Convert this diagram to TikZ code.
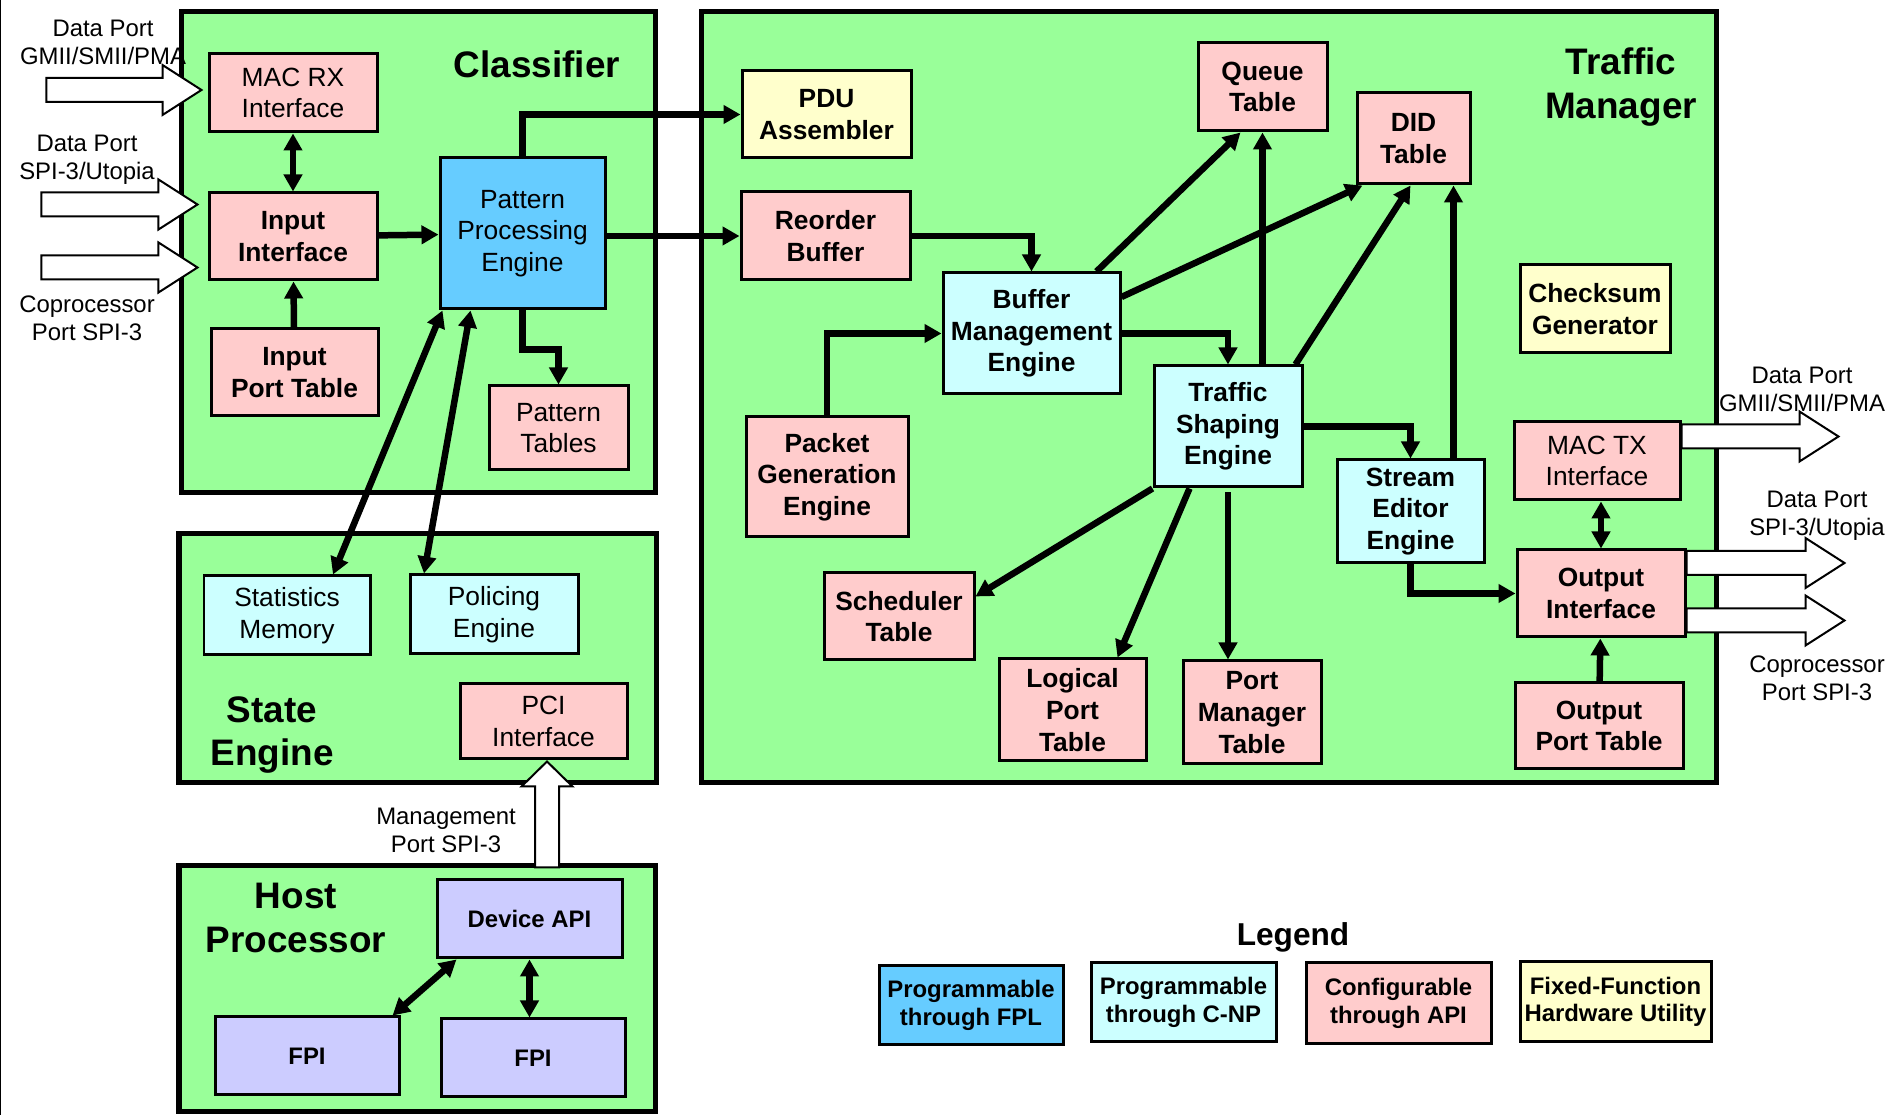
\documentclass[tikz,border=0pt]{standalone}
\usepackage{fontspec}
\setmainfont{Liberation Sans}
\usetikzlibrary{arrows.meta}

\definecolor{grpgreen}{HTML}{99FF99}
\definecolor{fplblue}{HTML}{66CCFF}
\definecolor{cnpcyan}{HTML}{CCFFFF}
\definecolor{apipink}{HTML}{FFCCCC}
\definecolor{fixyellow}{HTML}{FFFFCC}
\definecolor{hostlav}{HTML}{CCCCFF}

\tikzset{
  sz/.style 2 args={minimum width=#1cm, minimum height=#2cm},
  blk/.style={draw, line width=0.03cm, align=center, inner sep=0pt, font=\fontsize{7.5}{9}\selectfont},
  blkb/.style={blk, font=\fontsize{7.5}{9}\selectfont\bfseries},
  blks/.style={blk, font=\fontsize{6.8}{7.8}\selectfont\bfseries},
  grp/.style={draw, fill=grpgreen, line width=0.05cm},
  title/.style={align=center, font=\fontsize{10.5}{12.5}\selectfont\bfseries},
  portlbl/.style={align=center, inner sep=0pt, font=\fontsize{6.8}{8}\selectfont},
  port/.style={draw, fill=white, line width=0.02cm},
  link/.style={line width=0.065cm, -{Triangle[length=0.17cm,width=0.18cm]}},
  dlink/.style={link, {Triangle[length=0.17cm,width=0.18cm]}-{Triangle[length=0.17cm,width=0.18cm]}}
}

\begin{document}
\begin{tikzpicture}
  \useasboundingbox (0,0) rectangle (18.95,-11.15);
  % page edge
  \draw[line width=0.01cm] (0.005,0) -- (0.005,-11.15);

  % groups
  \draw[grp] (1.81,-0.12) rectangle (6.55,-4.93);
  \draw[grp] (7.01,-0.12) rectangle (17.16,-7.83);
  \draw[grp] (1.79,-5.34) rectangle (6.56,-7.83);
  \draw[grp] (1.79,-8.66) rectangle (6.55,-11.12);
  \node[title] (tcls) at (5.37,-0.645) {Classifier};
  \node[title] (ttm) at (16.21,-0.87) {Traffic\\Manager};
  \node[title] (tstate) at (2.72,-7.35) {State\\Engine};
  \node[title] (thost) at (2.96,-9.18) {Host\\Processor};

  % classifier
  \node[blk, fill=apipink, sz={1.68}{0.78}] (macrx) at (2.93,-0.93) {MAC RX\\Interface};
  \node[blkb, fill=apipink, sz={1.68}{0.87}] (inif) at (2.93,-2.365) {Input\\Interface};
  \node[blkb, fill=apipink, sz={1.67}{0.87}] (inport) at (2.945,-3.725) {Input\\Port Table};
  \node[blk, fill=fplblue, sz={1.65}{1.51}] (ppe) at (5.225,-2.335) {Pattern\\Processing\\Engine};
  \node[blk, fill=apipink, sz={1.39}{0.84}] (ptab) at (5.585,-4.28) {Pattern\\Tables};

  % state engine
  \node[blk, fill=cnpcyan, sz={1.66}{0.79}] (stats) at (2.87,-6.155) {Statistics\\Memory};
  \node[blk, fill=cnpcyan, sz={1.68}{0.79}] (polic) at (4.94,-6.145) {Policing\\Engine};
  \node[blk, fill=apipink, sz={1.67}{0.75}] (pci) at (5.435,-7.215) {PCI\\Interface};

  % traffic manager
  \node[blkb, fill=fixyellow, sz={1.69}{0.87}] (pdu) at (8.265,-1.145) {PDU\\Assembler};
  \node[blkb, fill=apipink, sz={1.69}{0.88}] (reorder) at (8.255,-2.36) {Reorder\\Buffer};
  \node[blkb, fill=apipink, sz={1.29}{0.88}] (queue) at (12.625,-0.87) {Queue\\Table};
  \node[blkb, fill=apipink, sz={1.13}{0.91}] (did) at (14.135,-1.385) {DID\\Table};
  \node[blkb, fill=cnpcyan, sz={1.77}{1.21}] (bme) at (10.315,-3.335) {Buffer\\Management\\Engine};
  \node[blkb, fill=cnpcyan, sz={1.48}{1.21}] (tse) at (12.28,-4.265) {Traffic\\Shaping\\Engine};
  \node[blkb, fill=fixyellow, sz={1.50}{0.88}] (chk) at (15.95,-3.09) {Checksum\\Generator};
  \node[blkb, fill=apipink, sz={1.62}{1.20}] (pge) at (8.27,-4.77) {Packet\\Generation\\Engine};
  \node[blkb, fill=cnpcyan, sz={1.47}{1.03}] (see) at (14.105,-5.115) {Stream\\Editor\\Engine};
  \node[blk, fill=apipink, sz={1.66}{0.78}] (mactx) at (15.97,-4.61) {MAC TX\\Interface};
  \node[blkb, fill=apipink, sz={1.68}{0.87}] (outif) at (16.01,-5.935) {Output\\Interface};
  \node[blkb, fill=apipink, sz={1.68}{0.86}] (outport) at (15.99,-7.26) {Output\\Port Table};
  \node[blkb, fill=apipink, sz={1.50}{0.87}] (sched) at (8.99,-6.165) {Scheduler\\Table};
  \node[blkb, fill=apipink, sz={1.47}{1.02}] (logical) at (10.725,-7.10) {Logical\\Port\\Table};
  \node[blkb, fill=apipink, sz={1.38}{1.03}] (pmt) at (12.52,-7.125) {Port\\Manager\\Table};

  % host processor
  \node[blks, fill=hostlav, sz={1.85}{0.78}] (devapi) at (5.295,-9.19) {Device API};
  \node[blks, fill=hostlav, sz={1.84}{0.78}] (fpia) at (3.07,-10.56) {FPI};
  \node[blks, fill=hostlav, sz={1.84}{0.78}] (fpib) at (5.33,-10.58) {FPI};

  % ports (hollow arrows)
  \coordinate (in1) at ([shift={(-0.06,0.03)}]macrx.west);
  \coordinate (in2) at ([shift={(-0.10,0.32)}]inif.west);
  \coordinate (in3) at ([shift={(-0.10,-0.31)}]inif.west);
  \coordinate (out1) at ([shift={(1.57,0.245)}]mactx.east);
  \coordinate (out2) at ([shift={(1.58,0.305)}]outif.east);
  \coordinate (out3) at ([shift={(1.58,-0.27)}]outif.east);
  \foreach \t/\b in {in1/1.16, in2/1.17, in3/1.17, out1/1.18, out2/1.19, out3/1.19} {
    \draw[port] (\t) -- ++(-0.39,0.25) -- ++(0,-0.13) -- ++(-\b,0) -- ++(0,-0.24)
      -- ++(\b,0) -- ++(0,-0.13) -- cycle;
  }
  \coordinate (mgmt) at ([shift={(0.035,-0.01)}]pci.south);
  \draw[port] (mgmt) -- ++(0.255,-0.25) -- ++(-0.135,0) -- ++(0,-0.81) -- ++(-0.24,0)
    -- ++(0,0.81) -- ++(-0.135,0) -- cycle;
  \node[portlbl] (lin1) at (1.03,-0.42) {Data Port\\GMII/SMII/PMA};
  \node[portlbl] (lin2) at (0.87,-1.60) {Data Port\\SPI-3/Utopia};
  \node[portlbl] (lin3) at (0.87,-3.18) {Coprocessor\\Port SPI-3};
  \node[portlbl] (lout1) at (18.02,-3.89) {Data Port\\GMII/SMII/PMA};
  \node[portlbl] (lout2) at (18.17,-5.16) {Data Port\\SPI-3/Utopia};
  \node[portlbl] (lout3) at (18.17,-6.78) {Coprocessor\\Port SPI-3};
  \node[portlbl] (lmgmt) at (4.46,-8.30) {Management\\Port SPI-3};

  % classifier links
  \draw[dlink] (macrx) -- (inif);
  \draw[link] (inport) -- (inif);
  \draw[link] (inif) -- (ppe);
  \draw[link] (ppe.north) |- (pdu);
  \draw[link] (ppe.east |- reorder) -- (reorder);
  \draw[link] (ppe.south) -- ++(0,-0.39) -| (ptab);
  \draw[dlink] ([xshift=0.46cm]stats.north) -- ([xshift=0.04cm]ppe.south west);
  \draw[dlink] ([xshift=-0.70cm]polic.north) -- ([xshift=0.32cm]ppe.south west);

  % traffic manager links
  \draw[link] (reorder) -| (bme);
  \draw[link] (pge) |- (bme);
  \draw[link] (bme) -| (tse);
  \draw[link] ([xshift=-0.25cm]bme.north east) -- ([xshift=-0.22cm]queue.south);
  \draw[link] ([yshift=0.365cm]bme.east) -- ([xshift=0.07cm]did.south west);
  \draw[link] (tse.north -| queue.south) -- (queue.south);
  \draw[link] ([xshift=-0.08cm]tse.north east) -- ([xshift=-0.03cm]did.south);
  \coordinate (seetop) at ([xshift=0.43cm]see.north);
  \draw[link] (seetop) -- (seetop |- did.south);
  \draw[link] (tse) -| (see);
  \draw[link] (see) |- (outif);
  \draw[dlink] (outif.north |- mactx.south) -- (outif.north);
  \draw[link] (outport) -- (outif);
  \draw[link] (tse.south west) -- ([yshift=0.2cm]sched.east);
  \draw[link] ([xshift=0.37cm]tse.south west) -- ([xshift=0.45cm]logical.north);
  \draw[link] ([yshift=-0.04cm]tse.south) -- (tse.south |- pmt.north);

  % host links
  \draw[dlink] ([xshift=0.21cm]devapi.south west) -- ([xshift=-0.08cm]fpia.north east);
  \draw[dlink] (devapi.south) -- (devapi.south |- fpib.north);

  % legend
  \node[font=\fontsize{9}{11}\selectfont\bfseries] (leg) at (12.93,-9.37) {Legend};
  \node[blks, fill=fplblue, sz={1.84}{0.79}] (lfpl) at (9.71,-10.055) {Programmable\\through FPL};
  \node[blks, fill=cnpcyan, sz={1.85}{0.79}] (lcnp) at (11.835,-10.025) {Programmable\\through C-NP};
  \node[blks, fill=apipink, sz={1.85}{0.81}] (lapi) at (13.985,-10.035) {Configurable\\through API};
  \node[blks, fill=fixyellow, sz={1.91}{0.80}] (lfix) at (16.155,-10.02) {Fixed-Function\\Hardware Utility};
\end{tikzpicture}
\end{document}
